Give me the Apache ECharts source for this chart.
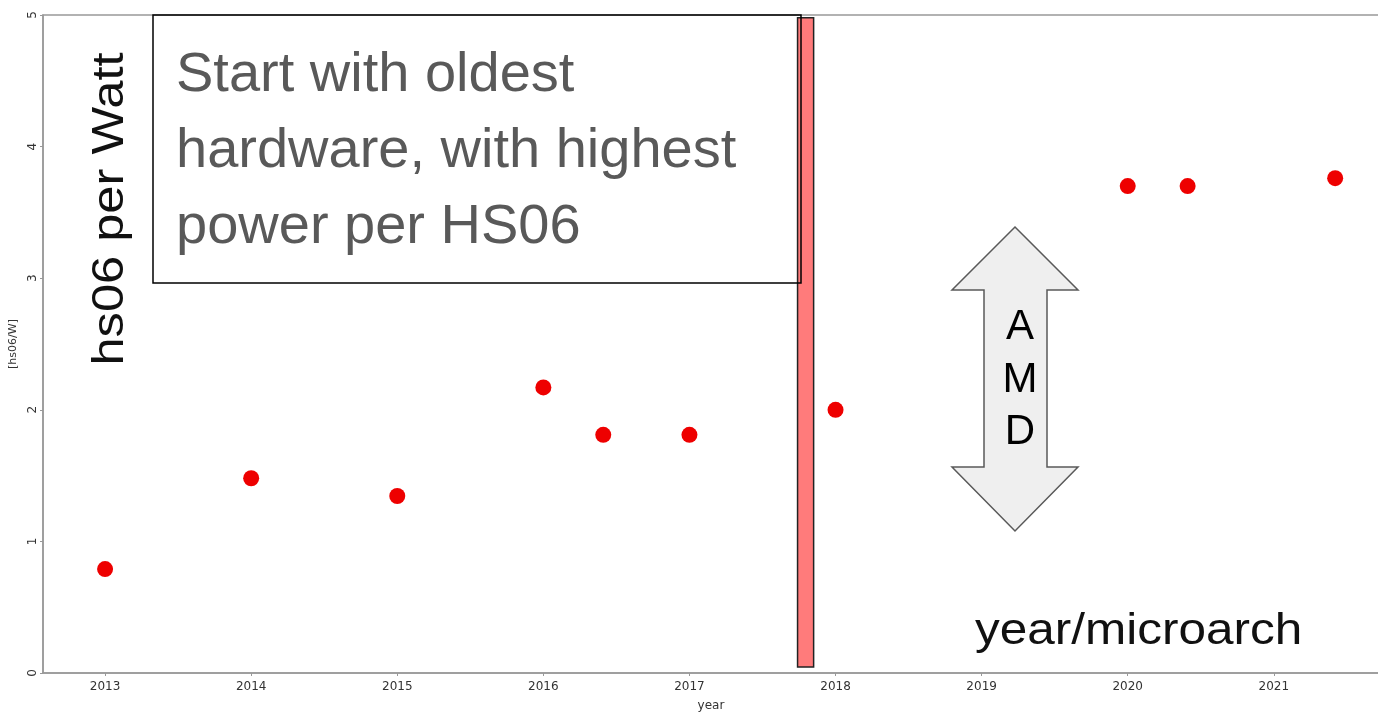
<!DOCTYPE html>
<html>
<head>
<meta charset="utf-8">
<script src="https://cdn.jsdelivr.net/npm/echarts@6/dist/echarts.min.js"></script>
<style>
html,body{margin:0;padding:0;background:#fff;}
#chart{width:1378px;height:713px;}
</style>
</head>
<body>
<div id="chart"></div>
<script>
// ---- data ----
var pointYears = [2013, 2014, 2015, 2016, 2016.41, 2017, 2018, 2020, 2020.41, 2021.42];
var pointValues = [0.79, 1.48, 1.345, 2.17, 1.81, 1.81, 2.0, 3.70, 3.70, 3.76];
var tickYears = [2013, 2014, 2015, 2016, 2017, 2018, 2019, 2020, 2021];
var markerStart = [2017.74];
var markerEnd = [2017.85];
var markerLow = [0.046];
var markerHigh = [4.98];
var boxLines = ['Start with oldest', 'hardware, with highest', 'power per HS06'];
var arrowLetters = ['A', 'M', 'D'];

var chart = echarts.init(document.getElementById('chart'));

var scatterData = pointYears.map(function (x, i) { return [x, pointValues[i]]; });
var markerData = markerStart.map(function (x, i) { return [x, markerEnd[i], markerLow[i], markerHigh[i]]; });

var graphics = [];
// text box
graphics.push({
  type: 'rect', z: 100,
  shape: { x: 153, y: 15, width: 648, height: 268 },
  style: { fill: 'transparent', stroke: '#000', lineWidth: 1.5 }
});
var boxMid = [76, 152, 228];
boxLines.forEach(function (t, i) {
  graphics.push({
    type: 'text', z: 101, x: 176, y: boxMid[i],
    style: { text: t, fontFamily: 'Liberation Sans, Arial, sans-serif', fontSize: 56, fill: '#595959', align: 'left', verticalAlign: 'middle' }
  });
});
// vertical big label
graphics.push({
  type: 'text', z: 101, x: 111, y: 209, rotation: Math.PI / 2, scaleX: 1.15,
  style: { text: 'hs06 per Watt', fontFamily: 'Liberation Sans, Arial, sans-serif', fontSize: 44, fill: '#111', align: 'center', verticalAlign: 'middle' }
});
// year/microarch
graphics.push({
  type: 'text', z: 101, x: 975, y: 632, scaleX: 1.125,
  style: { text: 'year/microarch', fontFamily: 'Liberation Sans, Arial, sans-serif', fontSize: 44, fill: '#111', align: 'left', verticalAlign: 'middle' }
});
// AMD double arrow
graphics.push({
  type: 'polygon', z: 100,
  shape: { points: [[1015, 227], [1078, 290], [1047, 290], [1047, 467], [1078, 467], [1015, 531], [952, 467], [984, 467], [984, 290], [952, 290]] },
  style: { fill: '#efefef', stroke: '#595959', lineWidth: 1.5 }
});
var letterMid = [327, 380, 432];
arrowLetters.forEach(function (t, i) {
  graphics.push({
    type: 'text', z: 101, x: 1020, y: letterMid[i],
    style: { text: t, fontFamily: 'Liberation Sans, Arial, sans-serif', fontSize: 42, fill: '#000', align: 'center', verticalAlign: 'middle' }
  });
});

var axisFont = { fontFamily: 'DejaVu Sans, sans-serif', fontSize: 12, color: '#333' };

chart.setOption({
  backgroundColor: '#fff',
  animation: false,
  grid: { left: 43, right: -1, top: 15, bottom: 40, outerBoundsMode: 'none', containLabel: false, show: true, borderColor: '#999', borderWidth: 1.5, backgroundColor: 'transparent' },
  xAxis: {
    type: 'value', min: 2012.575, max: 2021.72,
    name: 'year', nameLocation: 'middle', nameGap: 27,
    nameTextStyle: { fontFamily: 'DejaVu Sans, sans-serif', fontSize: 12, color: '#333' },
    axisLine: { show: true, lineStyle: { color: '#999', width: 1.5 } },
    axisTick: { show: true, length: 3, customValues: tickYears, lineStyle: { color: '#999' } },
    axisLabel: Object.assign({ customValues: tickYears, margin: 8, formatter: function (v) { return String(Math.round(v)); } }, axisFont),
    splitLine: { show: false }
  },
  yAxis: {
    type: 'value', min: 0, max: 5, interval: 1,
    name: '[hs06/W]', nameLocation: 'middle', nameGap: 20,
    nameTextStyle: { fontFamily: 'DejaVu Sans, sans-serif', fontSize: 11, color: '#333' },
    axisLine: { show: true, lineStyle: { color: '#999', width: 1.5 } },
    axisTick: { show: true, length: 3, lineStyle: { color: '#999' } },
    axisLabel: Object.assign({ rotate: 90, margin: 4 }, axisFont),
    splitLine: { show: false }
  },
  series: [
    {
      type: 'custom',
      data: markerData,
      z: 5,
      renderItem: function (params, api) {
        var p0 = api.coord([api.value(0), api.value(3)]);
        var p1 = api.coord([api.value(1), api.value(2)]);
        return {
          type: 'rect',
          shape: { x: p0[0], y: p0[1], width: p1[0] - p0[0], height: p1[1] - p0[1] },
          style: { fill: '#ff7b7b', stroke: '#222', lineWidth: 1.5 }
        };
      }
    },
    {
      type: 'scatter',
      data: scatterData,
      symbolSize: 16,
      itemStyle: { color: '#ee0000', opacity: 1 },
      z: 6
    }
  ],
  graphic: graphics
});
</script>
</body>
</html>
